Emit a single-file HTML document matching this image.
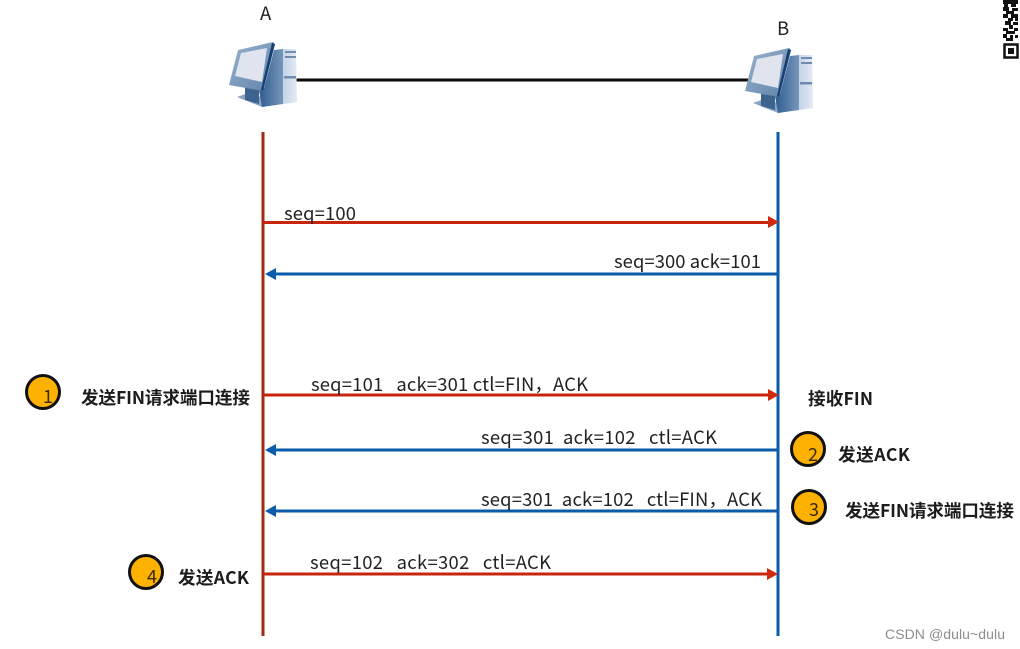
<!DOCTYPE html>
<html><head><meta charset="utf-8"><style>
html,body{margin:0;padding:0;background:#fff}
svg{display:block}
text{font-family:"Noto Sans CJK SC","Liberation Sans",sans-serif;fill:#222;white-space:pre}
.t{font-size:18.4px}
.b{font-size:17.6px;font-weight:700;fill:#1c1c1c}
.n{font-size:18px;fill:#3a2a00}
</style></head><body>
<svg width="1020" height="649" viewBox="0 0 1020 649" xmlns="http://www.w3.org/2000/svg">
<defs>
<linearGradient id="tw" x1="0" x2="1" y1="0" y2="0"><stop offset="0" stop-color="#c4d3e6"/><stop offset="1" stop-color="#e3ebf4"/></linearGradient>
<linearGradient id="sd" x1="0" x2="1" y1="0" y2="0"><stop offset="0" stop-color="#2f5c8f"/><stop offset="1" stop-color="#7696ba"/></linearGradient>
<linearGradient id="bz" x1="0" x2="1" y1="0" y2="1"><stop offset="0" stop-color="#9ab3ce"/><stop offset="1" stop-color="#5f82a9"/></linearGradient>
<g id="pc">
<polygon points="237,97 248,93 283,103 262,107" fill="#8aa5c3"/>
<polygon points="245,86 259,90 259,104 245,100" fill="#3d638f"/>
<polygon points="264,88 274,50 283,49 283,104 262,107 259,90" fill="url(#sd)"/>
<polygon points="283,49 296,49 297,102 283,104" fill="url(#tw)"/>
<rect x="285" y="51" width="11" height="2" fill="#6f8cae"/>
<rect x="285" y="56" width="11" height="2" fill="#6f8cae"/>
<rect x="284" y="76" width="12" height="2.5" fill="#6f8cae"/>
<polygon points="238,50 273,42 275,44 263,91 229,85" fill="url(#bz)"/>
<polygon points="272,43 275,44 263,91 261,90" fill="#173f72"/>
<polygon points="241,53 267,48 262,82 235,76" fill="#dfe4ee"/>
</g>
</defs>

<rect width="1020" height="649" fill="#fff"/>
<line x1="296" y1="80" x2="752" y2="80" stroke="#0a0a0a" stroke-width="3"/>
<use href="#pc"/>
<use href="#pc" transform="translate(516,6)"/>
<text x="260" y="20" style="font-size:18.5px">A</text>
<text x="777" y="35" style="font-size:18.5px">B</text>

<line x1="263" y1="132" x2="263" y2="636" stroke="#a52a14" stroke-width="3"/>
<line x1="778" y1="132" x2="778" y2="636" stroke="#0a5bab" stroke-width="3"/>

<g stroke="#c8250f" stroke-width="3">
<line x1="264" y1="222.5" x2="770" y2="222.5"/>
<line x1="264" y1="395" x2="770" y2="395"/>
<line x1="264" y1="574" x2="770" y2="574"/>
</g>
<g fill="#d02a0c">
<polygon points="768,216 779,222 768,228"/>
<polygon points="768,389 779,395 768,401"/>
<polygon points="767,568 778,574 767,580"/>
</g>
<g stroke="#0a5bab" stroke-width="3">
<line x1="272" y1="274" x2="778" y2="274"/>
<line x1="272" y1="450" x2="778" y2="450"/>
<line x1="272" y1="511" x2="778" y2="511"/>
</g>
<g fill="#0a5bab">
<polygon points="276,268 265,274 276,280"/>
<polygon points="276,444 265,450 276,456"/>
<polygon points="276,505 265,511 276,517"/>
</g>

<text class="t" x="284" y="220" textLength="72">seq=100</text>
<text class="t" x="614" y="268" textLength="147">seq=300 ack=101</text>
<text class="t" x="311" y="391" textLength="277">seq=101   ack=301 ctl=FIN，ACK</text>
<text class="t" x="481" y="444" textLength="236">seq=301  ack=102   ctl=ACK</text>
<text class="t" x="481" y="506" textLength="281">seq=301  ack=102   ctl=FIN，ACK</text>
<text class="t" x="310" y="569" textLength="241">seq=102   ack=302   ctl=ACK</text>

<g fill="#fdb100" stroke="#111" stroke-width="3">
<circle cx="43" cy="392" r="16.5"/>
<circle cx="808" cy="449" r="16.5"/>
<circle cx="809" cy="507" r="16.5"/>
<circle cx="146" cy="572" r="16.5"/>
</g>
<text class="n" x="43" y="403">1</text>
<text class="n" x="808" y="461">2</text>
<text class="n" x="809" y="516">3</text>
<text class="n" x="147" y="583">4</text>

<text class="b" x="81" y="404" textLength="169">发送FIN请求端口连接</text>
<text class="b" x="808" y="405" textLength="65">接收FIN</text>
<text class="b" x="838" y="461" textLength="72">发送ACK</text>
<text class="b" x="845" y="517" textLength="169">发送FIN请求端口连接</text>
<text class="b" x="178" y="584" textLength="71">发送ACK</text>

<text x="885" y="639" textLength="120" style="font-size:14px;font-family:'Liberation Sans',sans-serif;fill:#8c8c8c">CSDN @dulu~dulu</text>

<g fill="#111">
<rect x="1003" y="0" width="15" height="4"/>
<rect x="1004" y="4" width="4" height="3"/><rect x="1011" y="4" width="5" height="3"/>
<rect x="1003" y="7" width="6" height="4"/><rect x="1012" y="8" width="6" height="3"/>
<rect x="1006" y="11" width="8" height="3"/>
<rect x="1003" y="14" width="5" height="4"/><rect x="1011" y="14" width="7" height="4"/>
<rect x="1008" y="18" width="5" height="3"/><rect x="1015" y="18" width="3" height="3"/>
<rect x="1005" y="21" width="6" height="4"/><rect x="1013" y="22" width="5" height="3"/>
<rect x="1009" y="25" width="4" height="4"/>
<rect x="1003" y="28" width="5" height="3"/><rect x="1014" y="28" width="4" height="3"/>
<rect x="1006" y="31" width="9" height="3"/>
<rect x="1003" y="34" width="4" height="4"/><rect x="1010" y="35" width="3" height="3"/><rect x="1015" y="35" width="3" height="3"/>
<rect x="1006" y="38" width="7" height="3"/>
</g>
<rect x="1004.5" y="44.5" width="13" height="13" fill="none" stroke="#111" stroke-width="2.5"/>
<rect x="1008" y="48" width="6" height="6" fill="#111"/>
</svg>
</body></html>
